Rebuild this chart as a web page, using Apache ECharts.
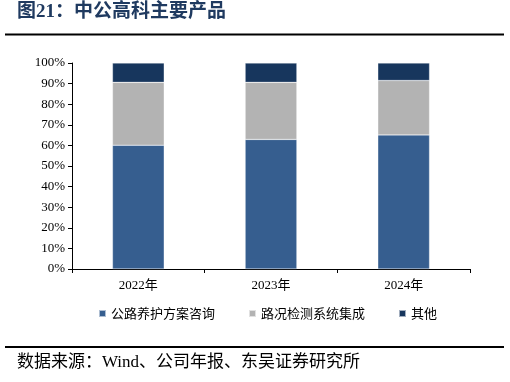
<!DOCTYPE html>
<html><head><meta charset="utf-8">
<script src="https://cdn.jsdelivr.net/npm/echarts@6/dist/echarts.min.js"></script>
<style>html,body{margin:0;padding:0;background:#fff}#c{width:510px;height:382px}</style>
</head><body><div id="c"></div>
<script>
const categories = ['2022年', '2023年', '2024年'];
const seriesNames = ['公路养护方案咨询', '路况检测系统集成', '其他'];
const consulting = [60.1, 62.9, 65.1];
const detection = [30.5, 27.7, 26.4];
const others = [9.4, 9.4, 8.5];
const yTicks = [0, 10, 20, 30, 40, 50, 60, 70, 80, 90, 100];
const colors = ['#365E8F', '#B3B3B3', '#17365D'];

const chart = echarts.init(document.getElementById('c'));
const serif = '"Liberation Serif","Times New Roman",serif';
const cjk = '"Liberation Serif","Noto Sans CJK SC",serif';
const mk = (name, data, i) => ({
  name, type: 'bar', stack: 'a', data, barWidth: '39%',
  itemStyle: { color: colors[i], borderColor: 'rgba(255,255,255,0.6)', borderWidth: 0.5 }
});
chart.setOption({
  animation: false,
  grid: { left: 72, right: 40, top: 63, bottom: 113 },
  xAxis: {
    type: 'category', data: categories,
    axisLine: { lineStyle: { color: '#000', width: 1 } },
    axisTick: { show: true, length: 4, inside: false, lineStyle: { color: '#000' } },
    axisLabel: { color: '#000', fontFamily: cjk, fontSize: 13, margin: 10 }
  },
  yAxis: {
    type: 'value', min: 0, max: 100, interval: 10,
    axisLine: { show: true, lineStyle: { color: '#000' } },
    axisTick: { show: true, length: 4, lineStyle: { color: '#000' } },
    splitLine: { show: false },
    axisLabel: { color: '#000', fontFamily: serif, fontSize: 13, margin: 7,
      formatter: v => yTicks.includes(v) ? v + '%' : '' }
  },
  legend: {
    data: seriesNames, left: 93, top: 302, itemWidth: 7, itemHeight: 7, itemGap: 33,
    icon: 'rect',
    textStyle: { fontFamily: '"Noto Sans CJK SC",sans-serif', fontSize: 13, color: '#000' }
  },
  series: [mk(seriesNames[0], consulting, 0), mk(seriesNames[1], detection, 1), mk(seriesNames[2], others, 2)],
  graphic: [
    { type: 'text', left: 17, top: 3, style: { text: '图21：中公高科主要产品', font: 'bold 19px "Liberation Serif","Noto Sans CJK SC",serif', fill: '#1F3A60' } },
    { type: 'line', shape: { x1: 5, y1: 34.5, x2: 504, y2: 34.5 }, style: { stroke: '#000', lineWidth: 2 } },
    { type: 'line', shape: { x1: 5, y1: 347, x2: 504, y2: 347 }, style: { stroke: '#000', lineWidth: 2 } },
    { type: 'text', left: 17, top: 354, style: { text: '数据来源：Wind、公司年报、东吴证券研究所', font: '17px "Liberation Serif","Noto Sans CJK SC",serif', fill: '#000' } }
  ]
});
</script></body></html>
